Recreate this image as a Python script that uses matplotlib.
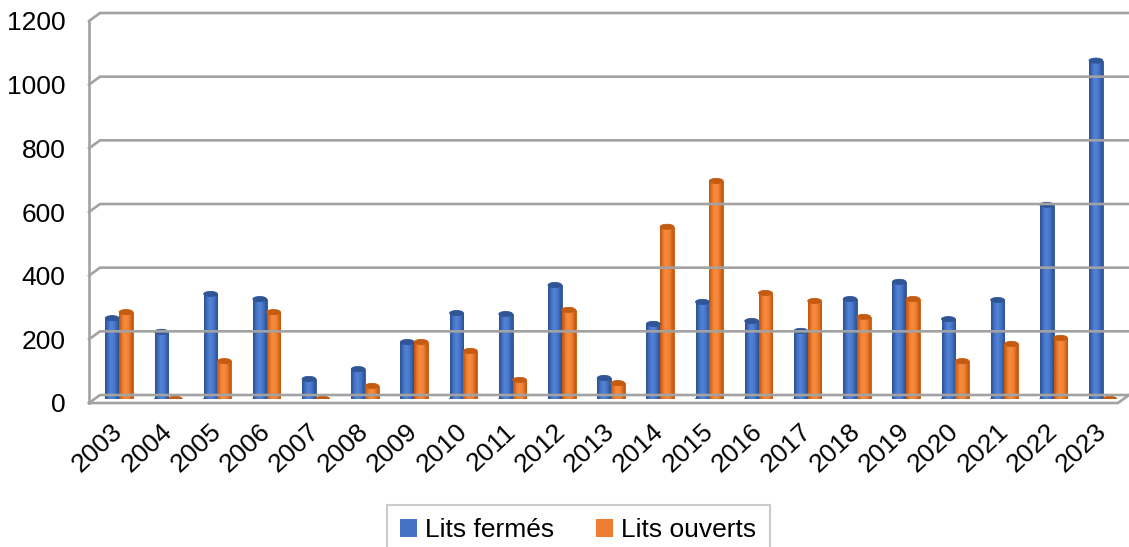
import matplotlib
matplotlib.use("Agg")
import numpy as np
import matplotlib.pyplot as plt
from matplotlib.patches import Ellipse, Patch
from matplotlib.lines import Line2D
from matplotlib.transforms import ScaledTranslation
from matplotlib.colors import LinearSegmentedColormap

years = ["2003", "2004", "2005", "2006", "2007", "2008", "2009", "2010", "2011", "2012",
         "2013", "2014", "2015", "2016", "2017", "2018", "2019", "2020", "2021", "2022", "2023"]
lits_fermes = [254, 211, 330, 314, 63, 94, 179, 270, 267, 358,
               66, 236, 305, 245, 214, 314, 368, 251, 311, 610, 1063]
lits_ouverts = [273, 0, 119, 273, 0, 41, 179, 151, 60, 280,
                50, 541, 685, 333, 308, 258, 314, 119, 173, 192, 0]
y_ticks = [0, 200, 400, 600, 800, 1000, 1200]

BLUE, BLUE_D, BLUE_L = "#4472C4", "#2F5597", "#5283D6"
ORANGE, ORANGE_D, ORANGE_L = "#ED7D31", "#C55A11", "#F88B3E"

plt.rcParams['font.family'] = ['Liberation Sans', 'DejaVu Sans']

W, H = 1129, 547
fig = plt.figure(figsize=(W / 100, H / 100), dpi=100)
ax = fig.add_axes([94.5 / W, (H - 399) / H, 1029 / W, 382 / H])
XL = (-0.50, 20.42)
for s in ax.spines.values():
    s.set_visible(False)

bw = 0.28
cap_h = 16
x = list(range(len(years)))
xb = [i - bw / 2 for i in x]
xo = [i + bw / 2 for i in x]

grad = np.array([[0.0, 0.35, 0.7, 1.0, 0.85, 0.6, 0.3, 0.0]])

def draw_series(xs, vals, col, dcol, lcol):
    cmap = LinearSegmentedColormap.from_list("c", [dcol, col, lcol])
    bars = ax.bar(xs, vals, width=bw, color=col, edgecolor=dcol, linewidth=0.6, zorder=3)
    for rect, xi, v in zip(bars, xs, vals):
        if v > 0:
            im = ax.imshow(grad, extent=[xi - bw / 2, xi + bw / 2, 0, v], aspect='auto',
                           cmap=cmap, vmin=0, vmax=1, zorder=3.05, interpolation='bilinear')
            im.set_clip_path(rect)
        ax.add_patch(Ellipse((xi, 0), bw, cap_h, facecolor=col, edgecolor=dcol, lw=0.6, zorder=2.9))
        ax.add_patch(Ellipse((xi, v), bw, cap_h, facecolor=dcol, edgecolor=dcol, lw=0.6, zorder=3.1))

draw_series(xb, lits_fermes, BLUE, BLUE_D, BLUE_L)
draw_series(xo, lits_ouverts, ORANGE, ORANGE_D, ORANGE_L)

ax.set_xlim(*XL)
ax.set_ylim(0, 1200)

# frame (oblique 3D look) in display coords
fig.canvas.draw()
td = ax.transData
X0 = td.transform((XL[0], 0))[0]
X1 = td.transform((XL[1], 0))[0]
grid_c = "#A2A2A2"
for v in y_ticks:
    ym = td.transform((0, v))[1]
    pts = [(X0 - 5.5, ym - 4), (X0 + 5.5, ym + 4), (W + 5, ym + 4)]
    fig.lines.append(Line2D([p[0] for p in pts], [p[1] for p in pts], transform=None,
                            color=grid_c, lw=1.9, zorder=0, figure=fig))
y0 = td.transform((0, 0))[1]
y12 = td.transform((0, 1200))[1]
fig.lines.append(Line2D([X0 - 5.5, X0 - 5.5], [y0 - 4, y12 - 4], transform=None,
                        color=grid_c, lw=1.9, zorder=0, figure=fig))
fig.lines.append(Line2D([X0 - 5.5, X1 - 5.5, X1 + 5.5], [y0 - 4, y0 - 4, y0 + 4], transform=None,
                        color=grid_c, lw=1.9, zorder=0, figure=fig))

ax.set_yticks(y_ticks)
ax.set_yticklabels([str(v) for v in y_ticks], fontsize=19)
ax.tick_params(axis='y', length=0, pad=21)
off = ScaledTranslation(0, -0.04, fig.dpi_scale_trans)
for lab in ax.get_yticklabels():
    lab.set_transform(lab.get_transform() + off)

ax.set_xticks(x)
ax.set_xticklabels(years, fontsize=19, rotation=43, ha='right', va='center',
                   rotation_mode='anchor')
ax.tick_params(axis='x', length=0, pad=21)

handles = [Patch(facecolor=BLUE, edgecolor='none', label="Lits fermés"),
           Patch(facecolor=ORANGE, edgecolor='none', label="Lits ouverts")]
leg = fig.legend(handles=handles, loc='upper center', bbox_to_anchor=(578 / W, (H - 505) / H),
                 ncol=2, fontsize=19, frameon=True, fancybox=False, handlelength=0.65,
                 handleheight=0.65, handletextpad=0.3, columnspacing=1.6,
                 borderpad=0.5, borderaxespad=0)
leg.get_frame().set_edgecolor("#BFBFBF")
leg.get_frame().set_linewidth(1.5)

fig.savefig("out.png", dpi=100)
